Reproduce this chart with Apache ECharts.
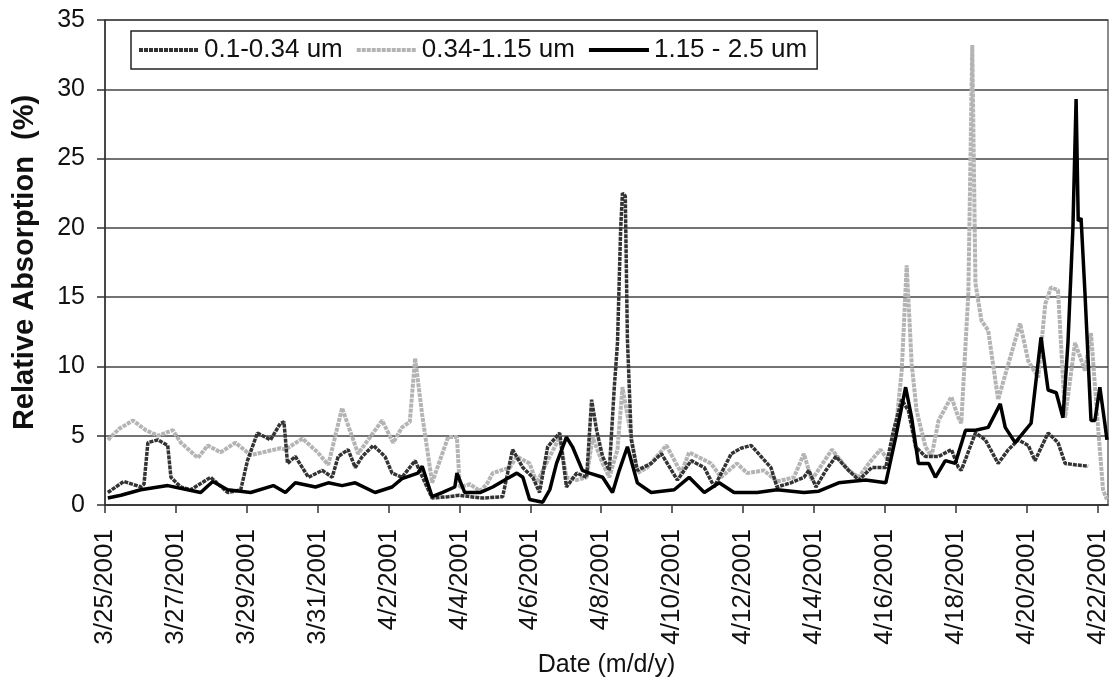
<!DOCTYPE html>
<html>
<head>
<meta charset="utf-8">
<script src="https://cdn.jsdelivr.net/npm/echarts@6/dist/echarts.min.js"></script>
<style>
  html, body { margin: 0; padding: 0; background: #fff; }
  #main { width: 1113px; height: 688px; }
</style>
</head>
<body>
<div id="main"></div>
<script>
// x values are days since 3/25/2001 00:00
const tickDays = [0, 2, 4, 6, 8, 10, 12, 14, 16, 18, 20, 22, 24, 26, 28]
const tickLabels = ['3/25/2001', '3/27/2001', '3/29/2001', '3/31/2001', '4/2/2001', '4/4/2001', '4/6/2001',
  '4/8/2001', '4/10/2001', '4/12/2001', '4/14/2001', '4/16/2001', '4/18/2001', '4/20/2001', '4/22/2001']
const seriesNames = ['0.1-0.34 um', '0.34-1.15 um', '1.15 - 2.5 um']

const uvDays = [0.08, 0.53, 1.01, 1.10, 1.21, 1.49, 1.77, 1.86, 2.14, 2.42, 2.98, 3.46, 3.83, 4.02, 4.30, 4.67, 4.95, 5.05,
  5.15, 5.37, 5.74, 6.13, 6.41, 6.58, 6.86, 7.06, 7.26, 7.57, 7.90, 8.10, 8.38, 8.75, 9.03, 9.23, 9.68, 10.0, 10.3,
  10.66, 11.22, 11.50, 11.79, 12.07, 12.26, 12.49, 12.83, 13.02, 13.31, 13.59, 13.73, 13.87, 14.04, 14.23, 14.37,
  14.46, 14.55, 14.60, 14.68, 14.74, 14.85, 15.02, 15.41, 15.70, 16.15, 16.54, 16.91, 17.19, 17.67, 17.95, 18.23,
  18.51, 18.79, 18.96, 19.35, 19.72, 19.86, 20.06, 20.34, 20.62, 20.98, 21.27, 21.63, 22.03, 22.25, 22.48, 22.67,
  22.87, 23.15, 23.52, 23.88, 24.08, 24.16, 24.56, 24.84, 25.20, 25.49, 25.77, 26.05, 26.24, 26.61, 26.89, 27.09,
  27.37, 27.74]
const uvVals = [0.9, 1.7, 1.3, 1.5, 4.5, 4.7, 4.3, 2.0, 1.3, 1.1, 2.0, 0.9, 1.1, 3.2, 5.2, 4.7, 5.9, 6.0,
  3.0, 3.5, 2.0, 2.5, 2.0, 3.5, 4.0, 2.7, 3.5, 4.3, 3.5, 2.3, 2.0, 3.2, 1.6, 0.5, 0.6, 0.7, 0.6,
  0.5, 0.6, 4.0, 2.7, 2.0, 0.9, 4.2, 5.2, 1.3, 2.3, 2.0, 7.6, 5.4, 3.5, 2.5, 8.5,
  11.7, 20.0, 22.5, 22.3, 12.0, 4.7, 2.5, 3.0, 3.7, 1.8, 3.2, 2.7, 1.3, 3.7, 4.1, 4.3,
  3.5, 2.7, 1.3, 1.6, 2.0, 2.5, 1.3, 2.5, 3.5, 2.5, 1.8, 2.7, 2.7, 5.4, 7.6, 6.8,
  4.2, 3.5, 3.5, 4.0, 2.7, 2.5, 5.2, 4.7, 3.0, 4.0, 4.7, 4.3, 3.2, 5.2, 4.5, 3.0,
  2.9, 2.8]

const visDays = [0.08, 0.40, 0.79, 1.15, 1.50, 1.91, 2.14, 2.62, 2.90, 3.26, 3.68, 4.11, 4.95, 5.09, 5.57, 6.00, 6.30,
  6.69, 7.14, 7.82, 8.13, 8.38, 8.60, 8.75, 8.95, 9.23, 9.68, 9.93, 10.01, 10.30, 10.58, 10.77, 10.94, 11.42, 11.62,
  11.98, 12.18, 12.55, 12.83, 13.02, 13.31, 13.59, 13.76, 14.04, 14.23, 14.46, 14.60, 14.74, 14.85, 15.02, 15.30,
  15.84, 16.26, 16.48, 17.10, 17.38, 17.83, 18.12, 18.59, 18.96, 19.44, 19.72, 19.94, 20.51, 20.98, 21.27, 21.55,
  21.88, 22.11, 22.33, 22.48, 22.62, 22.76, 22.90, 23.15, 23.32, 23.52, 23.88, 24.08, 24.16, 24.36, 24.47, 24.56,
  24.73, 24.92, 25.20, 25.49, 25.82, 26.05, 26.33, 26.53, 26.69, 26.89, 27.09, 27.37, 27.65, 27.82, 28.02, 28.16, 28.27]
const visVals = [4.7, 5.5, 6.1, 5.4, 5.0, 5.4, 4.5, 3.4, 4.3, 3.8, 4.5, 3.6, 4.1, 4.0, 4.8, 3.8, 2.9,
  7.0, 3.7, 6.1, 4.5, 5.6, 6.0, 10.6, 6.5, 1.6, 4.9, 4.9, 1.3, 1.5, 1.0, 1.5, 2.3, 2.7, 3.5,
  3.0, 1.6, 3.5, 4.9, 2.0, 1.8, 2.0, 4.9, 3.0, 2.0, 4.0, 8.5, 6.5, 4.9, 2.3, 2.7,
  4.3, 2.3, 3.8, 3.0, 2.0, 3.0, 2.3, 2.5, 1.7, 2.0, 3.7, 1.8, 4.0, 2.5, 2.0, 3.0,
  4.0, 3.2, 5.9, 9.7, 17.3, 10.2, 6.8, 4.2, 3.5, 6.1, 7.8, 6.3, 5.9, 15.3, 33.2, 16.0,
  13.3, 12.6, 7.6, 10.2, 13.1, 10.4, 9.2, 14.5, 15.7, 15.5, 6.3, 11.7, 9.7, 12.4, 5.6, 1.1, 0.4]

const irDays = [0.08, 0.45, 1.01, 1.77, 2.33, 2.70, 3.04, 3.46, 4.11, 4.75, 5.09, 5.37, 5.94, 6.30, 6.69, 7.06, 7.62,
  8.10, 8.38, 8.83, 8.95, 9.23, 9.51, 9.87, 9.93, 10.15, 10.58, 10.94, 11.34, 11.62, 11.79, 11.98, 12.35, 12.55,
  12.74, 13.02, 13.19, 13.47, 13.67, 14.04, 14.32, 14.51, 14.74, 15.02, 15.41, 16.06, 16.48, 16.91, 17.33, 17.75,
  18.40, 18.96, 19.72, 20.14, 20.70, 21.46, 22.03, 22.31, 22.59, 22.76, 22.95, 23.24, 23.43, 23.71, 23.99, 24.28,
  24.56, 24.92, 25.26, 25.40, 25.68, 26.13, 26.41, 26.61, 26.84, 27.03, 27.17, 27.31, 27.40, 27.46, 27.54, 27.65,
  27.82, 27.93, 28.07, 28.21, 28.27]
const irVals = [0.5, 0.7, 1.1, 1.4, 1.1, 0.9, 1.7, 1.1, 0.9, 1.4, 0.9, 1.6, 1.3, 1.6, 1.4, 1.6, 0.9,
  1.3, 1.9, 2.3, 2.8, 0.6, 0.9, 1.3, 2.3, 0.9, 0.9, 1.3, 1.9, 2.3, 2.0, 0.4, 0.2, 1.1,
  3.0, 4.9, 4.2, 2.5, 2.3, 2.0, 0.9, 2.5, 4.2, 1.6, 0.9, 1.1, 2.0, 0.9, 1.6, 0.9,
  0.9, 1.1, 0.9, 1.0, 1.6, 1.8, 1.6, 4.9, 8.5, 6.3, 3.0, 3.0, 2.0, 3.2, 3.0, 5.4,
  5.4, 5.6, 7.3, 5.6, 4.5, 5.9, 12.1, 8.3, 8.1, 6.3, 11.7, 20.0, 29.3, 20.5, 20.7, 15.3,
  6.1, 6.1, 8.5, 5.9, 4.7]

const pairs = (xs, ys) => xs.map((x, i) => [x, ys[i]])
const font = 'Liberation Sans, Arial, sans-serif'

const myChart = echarts.init(document.getElementById('main'))
const option = {
  animation: false,
  textStyle: { fontFamily: font },
  grid: {
    left: 105, right: 5, top: 20, bottom: 183,
    show: true, borderColor: '#666', borderWidth: 1.5
  },
  legend: {
    left: 131, top: 31,
    padding: [6, 10, 6, 6],
    itemGap: 12,
    itemWidth: 60, itemHeight: 14,
    borderColor: '#222', borderWidth: 1.5,
    backgroundColor: '#fff',
    itemStyle: { opacity: 0 },
    lineStyle: { width: 4 },
    textStyle: { fontSize: 26, color: '#111', fontFamily: font },
    data: seriesNames
  },
  xAxis: {
    type: 'value',
    min: 0, max: 28.3,
    name: 'Date (m/d/y)',
    nameLocation: 'middle',
    nameGap: 147,
    nameTextStyle: { fontSize: 25, color: '#111' },
    axisLine: { lineStyle: { color: '#333', width: 1.5 } },
    axisTick: { show: true, length: 8, customValues: tickDays, lineStyle: { color: '#333', width: 1.5 } },
    axisLabel: {
      customValues: tickDays,
      rotate: 90,
      margin: 24,
      fontSize: 26,
      color: '#111',
      formatter: v => tickLabels[tickDays.indexOf(Math.round(v))] || ''
    },
    splitLine: { show: false }
  },
  yAxis: {
    type: 'value',
    min: 0, max: 35, interval: 5,
    name: 'Relative Absorption  (%)',
    nameLocation: 'middle',
    nameGap: 66,
    nameTextStyle: { fontSize: 29, fontWeight: 'bold', color: '#111' },
    axisLine: { show: true, lineStyle: { color: '#333', width: 1.5 } },
    axisTick: { show: true, length: 8, lineStyle: { color: '#333', width: 1.5 } },
    axisLabel: { fontSize: 25, color: '#111', margin: 20 },
    splitLine: { lineStyle: { color: '#444', width: 1.5 } }
  },
  series: [
    {
      name: seriesNames[0],
      type: 'line',
      symbol: 'none',
      data: pairs(uvDays, uvVals),
      lineStyle: { color: '#333', width: 3.5, type: [4, 1] },
      itemStyle: { color: '#333' },
      z: 3
    },
    {
      name: seriesNames[1],
      type: 'line',
      symbol: 'none',
      data: pairs(visDays, visVals),
      lineStyle: { color: '#b4b4b4', width: 4, type: [4, 1] },
      itemStyle: { color: '#b4b4b4' },
      z: 2
    },
    {
      name: seriesNames[2],
      type: 'line',
      symbol: 'none',
      data: pairs(irDays, irVals),
      lineStyle: { color: '#000', width: 3.5 },
      itemStyle: { color: '#000' },
      z: 4
    }
  ]
}
myChart.setOption(option)
</script>
</body>
</html>
